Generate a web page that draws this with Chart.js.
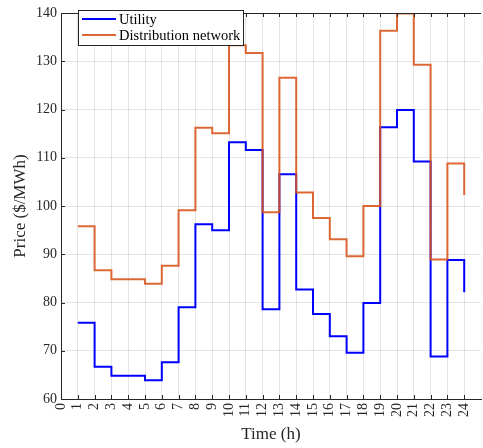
<!DOCTYPE html>
<html><head><meta charset="utf-8">
<script src="https://cdn.jsdelivr.net/npm/chart.js@4"></script>
<style>
html,body{margin:0;padding:0;overflow:hidden;background:#fff}
#wrap{width:483px;height:448px;overflow:hidden;position:relative}
canvas{display:block}
</style>
</head><body>
<div id="wrap"><canvas id="c" width="485" height="448" style="width:485px;height:448px"></canvas></div>
<script>
// ---- data ----
const hours = [1,2,3,4,5,6,7,8,9,10,11,12,13,14,15,16,17,18,19,20,21,22,23,24];
const utility = [75.8,66.7,64.8,64.8,63.9,67.6,79.0,96.2,95.0,113.2,111.6,78.6,106.6,82.7,77.6,73.0,69.6,79.9,116.3,119.9,109.2,68.8,88.8,82.1];
const distribution = [95.8,86.7,84.8,84.8,83.9,87.6,99.1,116.2,115.1,133.3,131.7,98.7,126.6,102.8,97.5,93.1,89.6,100.0,136.3,139.9,129.3,88.9,108.8,102.3];
const xTicks = [0,1,2,3,4,5,6,7,8,9,10,11,12,13,14,15,16,17,18,19,20,21,22,23,24];
const yTicks = [60,70,80,90,100,110,120,130,140];
const seriesNames = ['Utility','Distribution network'];

const SERIF = '"Liberation Serif","Times New Roman",Times,serif';
const AXIS = '#262626';
const GRID = 'rgba(38,38,38,0.12)';

const framePlugin = {
  id: 'frame',
  afterDraw(chart) {
    const {ctx, chartArea: a, scales: {x, y}} = chart;
    ctx.save();
    ctx.strokeStyle = AXIS;
    ctx.lineWidth = 1;
    ctx.beginPath();
    // top border
    ctx.moveTo(a.left, a.top + 0.5);
    ctx.lineTo(a.right, a.top + 0.5);
    // inward ticks on x (bottom and top)
    xTicks.forEach(v => {
      const px = Math.round(x.getPixelForValue(v)) + 0.5;
      ctx.moveTo(px, a.bottom);
      ctx.lineTo(px, a.bottom - 4);
      ctx.moveTo(px, a.top);
      ctx.lineTo(px, a.top + 4);
    });
    // inward ticks on y (left)
    yTicks.forEach(v => {
      const py = Math.round(y.getPixelForValue(v)) + 0.5;
      ctx.moveTo(a.left, py);
      ctx.lineTo(a.left + 4, py);
    });
    ctx.stroke();

    // legend
    const lx = a.left + 17, ly = a.top - 3, lw = 165, lh = 35;
    ctx.fillStyle = '#fff';
    ctx.fillRect(lx, ly, lw, lh);
    ctx.strokeStyle = AXIS;
    ctx.strokeRect(lx + 0.5, ly + 0.5, lw, lh);
    ctx.font = '14.5px ' + SERIF;
    ctx.textBaseline = 'middle';
    ctx.textAlign = 'left';
    chart.data.datasets.forEach((ds, i) => {
      const cy = ly + 9 + i * 16;
      ctx.strokeStyle = ds.borderColor;
      ctx.lineWidth = 2;
      ctx.beginPath();
      ctx.moveTo(lx + 4, cy);
      ctx.lineTo(lx + 38, cy);
      ctx.stroke();
      ctx.fillStyle = '#000';
      ctx.fillText(ds.label, lx + 41, cy + 1);
    });
    ctx.restore();
  }
};

new Chart(document.getElementById('c'), {
  type: 'line',
  data: {
    datasets: [
      {
        label: seriesNames[0],
        data: hours.map((h, i) => ({x: h, y: utility[i]})),
        borderColor: '#0000FF',
        borderWidth: 2,
        pointRadius: 0,
        stepped: true,
        fill: false,
        order: 1
      },
      {
        label: seriesNames[1],
        data: hours.map((h, i) => ({x: h, y: distribution[i]})),
        borderColor: 'rgba(217,83,25,0.88)',
        borderWidth: 2,
        pointRadius: 0,
        stepped: true,
        fill: false,
        order: 0
      }
    ]
  },
  options: {
    responsive: false,
    animation: false,
    devicePixelRatio: 1,
    layout: {padding: {top: 13, left: 0, right: 0, bottom: 0}},
    plugins: {legend: {display: false}, tooltip: {enabled: false}},
    scales: {
      x: {
        type: 'linear',
        min: 0, max: 25,
        afterBuildTicks: s => { s.ticks = xTicks.map(v => ({value: v})); },
        afterFit: s => { s.height = 49; },
        grid: {color: GRID, drawTicks: false},
        border: {display: true, color: AXIS, width: 1},
        ticks: {
          autoSkip: false, minRotation: 90, maxRotation: 90, padding: 4,
          color: AXIS, font: {family: SERIF, size: 14}
        },
        title: {
          display: true, text: 'Time (h)', color: AXIS,
          font: {family: SERIF, size: 17},
          padding: {top: 0, bottom: 3}
        }
      },
      y: {
        type: 'linear',
        min: 60, max: 140,
        afterBuildTicks: s => { s.ticks = yTicks.map(v => ({value: v})); },
        afterFit: s => { s.width = 61; },
        grid: {color: GRID, drawTicks: false},
        border: {display: true, color: AXIS, width: 1},
        ticks: {padding: 4, color: AXIS, font: {family: SERIF, size: 14}},
        title: {
          display: true, text: 'Price ($/MWh)', color: AXIS,
          font: {family: SERIF, size: 17},
          padding: {top: 10, bottom: 0}
        }
      }
    }
  },
  plugins: [framePlugin]
});
</script>
</body></html>
